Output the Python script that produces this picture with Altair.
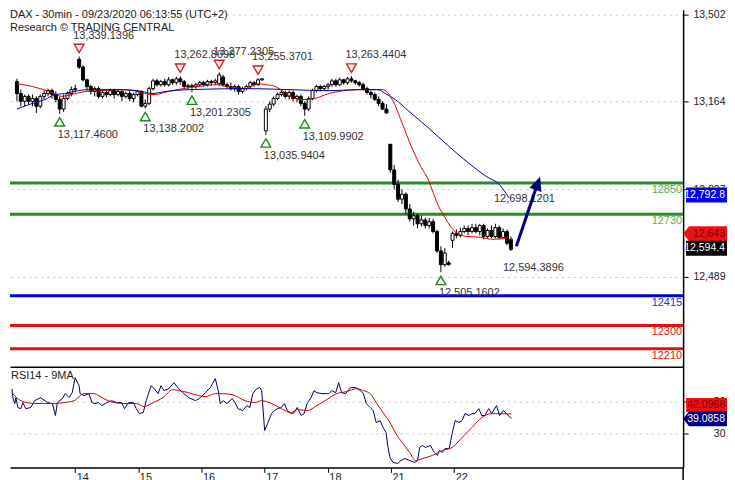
import altair as alt
import pandas as pd

FONT = "Liberation Sans"

# ---------------- data: 30-min candles (bar index 0..127) ----------------
opens = [13242, 13196, 13166, 13185, 13166, 13177, 13147, 13185, 13196, 13208, 13192, 13173, 13136, 13177, 13196, 13211,
         13328, 13298, 13249, 13223, 13204, 13215, 13185, 13200, 13192, 13208, 13192, 13204, 13185, 13196, 13177, 13192,
         13204, 13147, 13158, 13215, 13245, 13230, 13242, 13230, 13249, 13238, 13253, 13242, 13223, 13226, 13223, 13230,
         13238, 13230, 13242, 13238, 13234, 13260, 13230, 13223, 13215, 13223, 13204, 13215, 13223, 13238, 13230, 13249,
         13052, 13136, 13155, 13177, 13192, 13200, 13185, 13200, 13177, 13185, 13158, 13136, 13177, 13208, 13223, 13215,
         13223, 13230, 13245, 13230, 13249, 13238, 13253, 13245, 13238, 13230, 13215, 13200, 13192, 13173, 13158, 13136,
         13000, 12901, 12845, 12788, 12807, 12750, 12712, 12724, 12693, 12708, 12686, 12701, 12663, 12588, 12535, 12542,
         12629, 12656, 12648, 12663, 12675, 12663, 12678, 12663, 12686, 12644, 12667, 12644, 12678, 12640, 12663, 12633]
closes = [13196, 13166, 13185, 13166, 13177, 13147, 13185, 13196, 13208, 13192, 13173, 13136, 13177, 13196, 13211, 13215,
          13298, 13249, 13223, 13204, 13215, 13185, 13200, 13192, 13208, 13192, 13204, 13185, 13196, 13177, 13192, 13204,
          13147, 13158, 13215, 13245, 13230, 13242, 13230, 13249, 13238, 13253, 13242, 13223, 13226, 13223, 13230, 13238,
          13230, 13242, 13238, 13245, 13268, 13230, 13223, 13215, 13223, 13204, 13215, 13223, 13238, 13230, 13249, 13253,
          13136, 13155, 13177, 13192, 13200, 13185, 13200, 13177, 13185, 13158, 13136, 13177, 13208, 13223, 13215, 13223,
          13230, 13245, 13230, 13249, 13238, 13253, 13245, 13238, 13230, 13215, 13200, 13192, 13173, 13158, 13136, 13121,
          12901, 12845, 12788, 12807, 12750, 12712, 12724, 12693, 12708, 12686, 12701, 12663, 12588, 12535, 12580, 12535,
          12656, 12648, 12663, 12675, 12663, 12678, 12663, 12686, 12644, 12667, 12644, 12678, 12640, 12663, 12618, 12594.39]
highs = [13253, 13211, 13192, 13192, 13192, 13185, 13192, 13208, 13215, 13215, 13204, 13185, 13192, 13204, 13223, 13230,
         13339.14, 13306, 13253, 13230, 13223, 13223, 13208, 13208, 13215, 13215, 13211, 13211, 13204, 13204, 13200, 13211,
         13208, 13173, 13223, 13253, 13253, 13249, 13253, 13260, 13253, 13260, 13262.81, 13249, 13234, 13234, 13238, 13245,
         13245, 13249, 13249, 13253, 13277.23, 13268, 13238, 13238, 13230, 13230, 13223, 13230, 13245, 13245, 13255.37, 13253,
         13147, 13166, 13185, 13200, 13208, 13208, 13208, 13208, 13192, 13192, 13166, 13185, 13215, 13230, 13230, 13230,
         13238, 13253, 13253, 13257, 13253, 13260, 13263.44, 13249, 13245, 13238, 13223, 13208, 13200, 13185, 13166, 13155,
         13000, 12920, 12863, 12826, 12814, 12769, 12739, 12731, 12724, 12716, 12716, 12712, 12671, 12606, 12599, 12550,
         12663, 12671, 12678, 12686, 12686, 12693, 12693, 12693, 12693, 12675, 12686, 12693, 12686, 12675, 12671, 12644]
lows = [13166, 13147, 13147, 13155, 13147, 13121, 13139, 13173, 13185, 13177, 13162, 13117.46, 13124, 13170, 13185, 13200,
        13291, 13242, 13208, 13192, 13185, 13177, 13177, 13181, 13185, 13177, 13185, 13166, 13177, 13166, 13162, 13185,
        13143, 13138.2, 13151, 13208, 13223, 13223, 13223, 13223, 13230, 13230, 13230, 13215, 13211, 13201.23, 13215, 13223,
        13223, 13223, 13226, 13230, 13226, 13223, 13215, 13208, 13204, 13192, 13196, 13208, 13215, 13223, 13226, 13245,
        13035.94, 13124, 13147, 13170, 13185, 13177, 13173, 13166, 13162, 13147, 13109.99, 13128, 13170, 13200, 13204, 13208,
        13211, 13223, 13223, 13226, 13230, 13230, 13238, 13230, 13223, 13208, 13192, 13177, 13166, 13147, 13132, 13117,
        12890, 12826, 12777, 12769, 12731, 12701, 12686, 12675, 12682, 12675, 12675, 12656, 12580, 12505.16, 12527, 12531,
        12599, 12637, 12640, 12656, 12648, 12656, 12656, 12648, 12633, 12637, 12637, 12637, 12633, 12633, 12610, 12588]
bars = list(range(len(closes)))

day_tick_bars = [16, 32, 48, 64, 80, 96, 112]
day_labels = ["14", "15", "16", "17", "18", "21", "22"]
price_ticks = [12489, 12827, 13164, 13502]
rsi_ticks = [30, 50]

# moving averages on price
ma_fast_bar = [0, 4, 9, 11.5, 14, 17.75, 21.5, 26.5, 30.25, 32.75, 35.25, 39, 42.75, 46.5, 51.5, 54, 59, 62, 64, 66.5,
               67.75, 72.75, 75.25, 80.25, 84, 87.75, 92.75, 94, 96.5, 99, 101.5, 104, 105.75, 107, 108.5, 110.25, 111.5,
               113.25, 115.75, 119, 122.25, 125.75, 126.5]
ma_fast = [13234, 13223, 13200, 13185, 13192, 13204, 13207, 13211, 13207, 13196, 13192, 13204, 13215, 13223, 13230, 13223,
           13215, 13234, 13230, 13223, 13211, 13173, 13173, 13196, 13207, 13211, 13211, 13211, 13173, 13083, 12988, 12909,
           12864, 12814, 12758, 12712, 12682, 12656, 12644, 12641, 12633, 12637, 12643]
ma_slow_bar = [0, 4, 7.25, 9.75, 12.25, 14.75, 18.25, 21.5, 26.5, 32.25, 34.75, 38.25, 44, 59.5, 70.25, 80.25, 87.75,
               92.75, 94.75, 97.25, 100.75, 105.75, 110.75, 115.75, 120.75, 124, 126.5]
ma_slow = [13136, 13158, 13173, 13192, 13196, 13204, 13211, 13211, 13211, 13204, 13196, 13204, 13211, 13215, 13211, 13207,
           13211, 13211, 13196, 13173, 13128, 13064, 12996, 12932, 12875, 12845, 12793]

# RSI 14 and its 9-period MA
rsi_bar = [0, 0.25, 0.75, 1, 1.5, 2.25, 2.75, 3.5, 4.75, 5.75, 7.25, 9, 10.25, 11, 11.5, 12.75, 13.5, 14.5, 15.25, 16,
           17, 17.25, 18.25, 19.5, 20.25, 21, 22, 22.75, 24, 25.25, 26.5, 27.75, 28.5, 29.5, 30.75, 31.5, 32.25, 33.25, 34, 35.25,
           36, 37, 37.75, 38.5, 39.75, 41, 42, 43.25, 44.75, 46.5, 47.75, 49, 50.25, 51.5, 52.25, 52.75, 53.5, 54.5, 55.75, 56.5,
           57.25, 58.5, 59.5, 60.25, 61, 62, 62.75, 63.25, 64, 64.75, 65.75, 66.5, 67.25, 68.25, 69, 69.75, 70.75, 71.5, 72.25, 73.25,
           74, 74.75, 75.75, 76.5, 77.25, 78.5, 80.25, 81, 82, 82.75, 83.5, 84.5, 85.75, 87, 88.25, 89, 89.75, 90.75, 91.5, 92.25,
           93.25, 94, 94.75, 95.25, 95.75, 96.5, 97.75, 98.5, 99.5, 100.75, 102, 102.75, 103.25, 104, 104.75, 106, 107, 107.75, 108.25, 109,
           109.75, 110.75, 111.5, 112.25, 113.25, 114, 114.75, 115.75, 116.5, 117.25, 118.25, 119, 119.75, 120.75, 121.5, 122.75, 123.5, 124.5, 125.25, 126.5]
rsi_vals = [57.9, 51.7, 48.6, 52.3, 46.1, 45.4, 49.2, 45.4, 46.1, 50.4, 52.3, 49.2, 48.6, 41.1, 49.2, 51.7, 54.8, 52.3, 55.4, 64.8,
            59.8, 54.8, 53.6, 54.8, 49.2, 48.6, 49.2, 47.3, 49.2, 50.4, 49.2, 49.2, 45.4, 49.2, 49.2, 45.4, 42.3, 42.9, 50.4, 59.8,
            57.9, 54.8, 59.8, 56.7, 57.9, 61.7, 58.6, 55.4, 52.3, 50.4, 52.3, 55.4, 58.6, 64.2, 56.7, 48.6, 50.4, 48.6, 51.7, 49.2,
            45.4, 44.2, 47.3, 46.1, 54.8, 57.9, 58.6, 56.7, 31.7, 36.1, 42.3, 44.2, 45.4, 46.1, 48.6, 44.2, 42.3, 42.9, 46.1, 41.1,
            42.3, 48.6, 52.3, 56.7, 55.4, 54.8, 54.8, 56.7, 55.4, 61.7, 55.4, 54.8, 58.6, 58.6, 56.7, 54.8, 48.6, 46.1, 44.2, 36.7,
            37.9, 33.6, 30.4, 21.1, 14.8, 11.7, 11.1, 12.9, 14.2, 12.9, 11.7, 12.9, 21.1, 22.3, 21.1, 22.3, 17.9, 16.1, 19.2, 17.9,
            20.4, 20.4, 29.8, 37.9, 36.7, 37.9, 42.3, 41.1, 42.3, 42.3, 45.4, 41.1, 41.1, 45.4, 42.3, 47.3, 41.1, 44.2, 42.3, 39.09]
rsi_ma_bar = [0, 2.25, 5.75, 8.25, 10.75, 13.25, 15.75, 18.25, 20.75, 23.25, 25.75, 29, 31.5, 33.5, 35.75, 38.25, 40.75,
              42.25, 44.75, 47.25, 49, 51.5, 53.25, 55.75, 59, 61.5, 63.25, 65.75, 68.25, 70.75, 72.25, 74.75, 77.25, 79.75,
              82.25, 84.75, 87.25, 89, 90.75, 92.25, 94, 95.75, 97.25, 99, 100.75, 102.25, 104, 106.5, 109, 111.5, 114, 116.5,
              119, 121.5, 126.5]
rsi_ma_vals = [55.4, 50.4, 48.6, 48.6, 48.6, 49.2, 50.4, 54.8, 54.8, 51.7, 49.2, 48.6, 48.6, 46.7, 49.2, 52.3, 57.3, 56.7,
               55.4, 53.6, 52.9, 54.8, 54.8, 54.2, 50.4, 49.2, 50.4, 48.6, 45.4, 42.9, 44.8, 44.2, 47.3, 51.1, 54.8, 56.1,
               57.9, 56.7, 54.8, 49.2, 42.9, 36.7, 29.8, 23.6, 17.9, 12.9, 14.2, 16.1, 19.2, 21.1, 27.3, 33.6, 39.8, 42.3, 42.1]

# support / resistance levels
level_values = [12850, 12730, 12415, 12300, 12210]
level_line_colors = ["#2a8a2a", "#2a8a2a", "#0000d0", "#e01010", "#e01010"]
level_text_colors = ["#5aaa5a", "#5aaa5a", "#3030c8", "#d82020", "#d82020"]

# swing points
swing_high_bar = [16, 42, 52, 62, 86]
swing_high_val = [13339.1396, 13262.8098, 13277.2305, 13255.3701, 13263.4404]
swing_low_bar = [11, 33, 45, 64, 74, 109]
swing_low_val = [13117.46, 13138.2002, 13201.2305, 13035.9404, 13109.9902, 12505.1602]

target_text = "12,698.1201"
last_text = "12,594.3896"

arrow_bar = [128.4, 133.8]
arrow_price = [12606, 12846]
arrow_tip_bar = [134.5]
arrow_tip_price = [12875]

tag_slow_ma = 12792.8
tag_fast_ma = 12643
tag_last = 12594.4
tag_rsi_ma = 42.0968
tag_rsi = 39.0858

# ---------------- scales & axes ----------------
W, H_MAIN, H_RSI = 675, 358, 101
RIGHT = 719  # right edge of the drawing (page width 735 minus margins)
x_scale = alt.Scale(domain=[-0.5, 170], nice=False, zero=False)
y_scale = alt.Scale(domain=[12141, 13520], nice=False, zero=False)
r_scale = alt.Scale(domain=[8.6, 71.7], nice=False, zero=False)

grid_kw = dict(grid=True, gridColor="#c4c4c4", gridDash=[2, 4], gridWidth=1)
common_y = dict(orient="right", title=None, labelAlign="right", labelPadding=37, tickSize=5,
                tickColor="black", domainColor="black", domainWidth=1.5, labelFont=FONT,
                labelFontSize=10.5, labelColor="#222", labelBaseline="middle", zindex=0, **grid_kw)
y_axis_main = alt.Axis(values=price_ticks, format=",d", **common_y)
y_axis_rsi = alt.Axis(values=rsi_ticks, format="d", **common_y)
x_axis_main = alt.Axis(orient="bottom", title=None, labels=False, ticks=False, grid=False,
                       domainColor="black", domainWidth=1.5)
label_expr = " : ".join(f"datum.value == {b} ? '{l}'" for b, l in zip(day_tick_bars, day_labels)) + " : ''"
x_axis_rsi = alt.Axis(orient="bottom", title=None, values=day_tick_bars, labelExpr=label_expr, grid=False,
                      tickSize=5, tickColor="black", domainColor="black", domainWidth=1.5,
                      labelAlign="left", labelBaseline="top", labelPadding=-1, labelOffset=1,
                      labelFont=FONT, labelFontSize=11, labelColor="#222", labelOverlap=False, labelFlush=False)


def X(f):
    return alt.X(f, scale=x_scale, axis=x_axis_main, title=None)


def Y(f):
    return alt.Y(f, scale=y_scale, axis=y_axis_main, title=None)


def XR(f):
    return alt.X(f, scale=x_scale, axis=x_axis_rsi, title=None)


def R(f):
    return alt.Y(f, scale=r_scale, axis=y_axis_rsi, title=None)


# ---------------- main price panel ----------------
candles = pd.DataFrame({"bar": bars, "open": opens, "high": highs, "low": lows, "close": closes})

wicks = alt.Chart(candles).mark_rule(color="black", strokeWidth=1, clip=True).encode(
    x=X("bar:Q"), y=Y("low:Q"), y2="high:Q")
bodies = alt.Chart(candles).mark_bar(size=3, stroke="black", strokeWidth=1, clip=True).encode(
    x=X("bar:Q"), y=Y("open:Q"), y2="close:Q",
    fill=alt.condition("datum.close >= datum.open", alt.value("white"), alt.value("black")))

levels = pd.DataFrame({"value": level_values, "lc": level_line_colors, "tc": level_text_colors,
                       "label": [str(v) for v in level_values]})
level_rules = alt.Chart(levels).mark_rule(strokeWidth=3).encode(
    y=Y("value:Q"), color=alt.Color("lc:N", scale=None))
level_text = alt.Chart(levels).mark_text(align="right", baseline="middle", dy=7, font=FONT, fontSize=11).encode(
    x=alt.value(674), y=Y("value:Q"), text="label:N", color=alt.Color("tc:N", scale=None))

ma_f = alt.Chart(pd.DataFrame({"bar": ma_fast_bar, "v": ma_fast})).mark_line(
    color="#e00000", strokeWidth=1, interpolate="monotone", clip=True).encode(x=X("bar:Q"), y=Y("v:Q"))
ma_s = alt.Chart(pd.DataFrame({"bar": ma_slow_bar, "v": ma_slow})).mark_line(
    color="#000099", strokeWidth=1, interpolate="monotone", clip=True).encode(x=X("bar:Q"), y=Y("v:Q"))

hi_df = pd.DataFrame({"bar": swing_high_bar, "v": swing_high_val,
                      "t": [f"{v:,.4f}" for v in swing_high_val]})
lo_df = pd.DataFrame({"bar": swing_low_bar, "v": swing_low_val,
                      "t": [f"{v:,.4f}" for v in swing_low_val]})
hi_tri = alt.Chart(hi_df).mark_point(shape="triangle-down", filled=False, size=95, strokeWidth=1.4,
                                     color="#e01b1b", opacity=1, yOffset=-8).encode(x=X("bar:Q"), y=Y("v:Q"))
lo_tri = alt.Chart(lo_df).mark_point(shape="triangle-up", filled=False, size=95, strokeWidth=1.4,
                                     color="#1a8a1a", opacity=1, yOffset=8).encode(x=X("bar:Q"), y=Y("v:Q"))
txt_kw = dict(align="left", baseline="middle", font=FONT, fontSize=11, color="#333")
hi_txt = alt.Chart(hi_df).mark_text(dx=-6, dy=-21, **txt_kw).encode(x=X("bar:Q"), y=Y("v:Q"), text="t:N")
lo_txt = alt.Chart(lo_df).mark_text(dx=-2, dy=21, **txt_kw).encode(x=X("bar:Q"), y=Y("v:Q"), text="t:N")

tgt_txt = alt.Chart(pd.DataFrame({"bar": [ma_slow_bar[-1]], "v": [tag_slow_ma], "t": [target_text]})).mark_text(
    dx=-15, dy=1, **txt_kw).encode(x=X("bar:Q"), y=Y("v:Q"), text="t:N")
last_txt = alt.Chart(pd.DataFrame({"bar": [bars[-1]], "v": [closes[-1]], "t": [last_text]})).mark_text(
    dx=-8, dy=19, **txt_kw).encode(x=X("bar:Q"), y=Y("v:Q"), text="t:N")

arrow_df = pd.DataFrame({"b1": [arrow_bar[0]], "b2": [arrow_bar[1]], "p1": [arrow_price[0]], "p2": [arrow_price[1]]})
shaft = alt.Chart(arrow_df).mark_rule(color="#00007a", strokeWidth=3).encode(
    x=X("b1:Q"), x2="b2:Q", y=Y("p1:Q"), y2="p2:Q")
head = alt.Chart(pd.DataFrame({"bar": arrow_tip_bar, "v": arrow_tip_price})).mark_point(
    shape="M0,0L0.45,1L-0.45,1Z", filled=True, size=784, angle=19, color="#00007a", opacity=1).encode(
    x=X("bar:Q"), y=Y("v:Q"))

title_df = pd.DataFrame({"t": ["DAX - 30min - 09/23/2020 06:13:55 (UTC+2)", "Research \u00a9 TRADING CENTRAL"],
                         "yy": [5.5, 18.5]})
title = alt.Chart(title_df).mark_text(align="left", baseline="middle", font=FONT, fontSize=11, color="#222").encode(
    x=alt.value(0), y=alt.Y("yy:Q", scale=None, axis=None), text="t:N")


def tag(value, ych, shape, size, cx, fill, text, tcolor, yoff):
    df = pd.DataFrame({"v": [value], "t": [text]})
    box = alt.Chart(df).mark_point(shape=shape, filled=True, size=size, color=fill, opacity=1,
                                   yOffset=yoff).encode(x=alt.value(cx), y=ych("v:Q"))
    lab = alt.Chart(df).mark_text(align="right", baseline="middle", font=FONT, fontSize=10.5, color=tcolor,
                                  yOffset=yoff).encode(x=alt.value(RIGHT - 2), y=ych("v:Q"), text="t:N")
    return box + lab


RECT_MAIN = "M-1,-0.366L1,-0.366L1,0.366L-1,0.366Z"
ARROW_TAG = "M-1,0L-0.727,-0.341L1,-0.341L1,0.341L-0.727,0.341Z"
tag_blue = tag(tag_slow_ma, Y, RECT_MAIN, 1681, 698.5, "#0000ee", f"{tag_slow_ma:,.1f}", "white", -3)
tag_red = tag(tag_fast_ma, Y, ARROW_TAG, 1936, 697, "#ee1111", f"{tag_fast_ma:,}", "#7a0000", -3)
tag_black = tag(tag_last, Y, RECT_MAIN, 1681, 698.5, "black", f"{tag_last:,.1f}", "white", -1)

main = alt.layer(level_rules, wicks, bodies, ma_f, ma_s, level_text, hi_tri, lo_tri, hi_txt, lo_txt,
                 tgt_txt, last_txt, shaft, head, title, tag_blue, tag_red, tag_black).properties(
    width=W, height=H_MAIN)

# ---------------- RSI panel ----------------
rsi_line = alt.Chart(pd.DataFrame({"bar": rsi_bar, "r": rsi_vals})).mark_line(
    color="#000066", strokeWidth=1, clip=True).encode(x=XR("bar:Q"), y=R("r:Q"))
rsi_ma = alt.Chart(pd.DataFrame({"bar": rsi_ma_bar, "r": rsi_ma_vals})).mark_line(
    color="#d00000", strokeWidth=1, interpolate="monotone", clip=True).encode(x=XR("bar:Q"), y=R("r:Q"))
rsi_title = alt.Chart(pd.DataFrame({"t": ["RSI14 - 9MA"]})).mark_text(
    align="left", baseline="middle", font=FONT, fontSize=11, color="#222").encode(
    x=alt.value(1), y=alt.value(9), text="t:N")
RECT_RSI = "M-1,-0.341L1,-0.341L1,0.341L-1,0.341Z"
rsi_tag_red = tag(tag_rsi_ma, R, RECT_RSI, 1681, 698.5, "#ee1111", f"{tag_rsi_ma:.4f}", "#7a0000", -9)
rsi_tag_blue = tag(tag_rsi, R, ARROW_TAG, 1936, 697, "#000080", f"{tag_rsi:.4f}", "white", 0)
axis_ext = alt.Chart(pd.DataFrame({"a": [0]})).mark_rule(color="black", strokeWidth=1.5).encode(
    x=alt.value(675), y=alt.value(H_RSI), y2=alt.value(H_RSI + 16))

rsi = alt.layer(rsi_line, rsi_ma, rsi_title, rsi_tag_red, rsi_tag_blue, axis_ext).properties(
    width=W, height=H_RSI)

chart = (alt.vconcat(main, rsi, spacing=0)
         .properties(padding=0)
         .configure(font=FONT)
         .configure_view(strokeWidth=0))

chart.save("out.html", embed_options={"renderer": "svg", "actions": False})
